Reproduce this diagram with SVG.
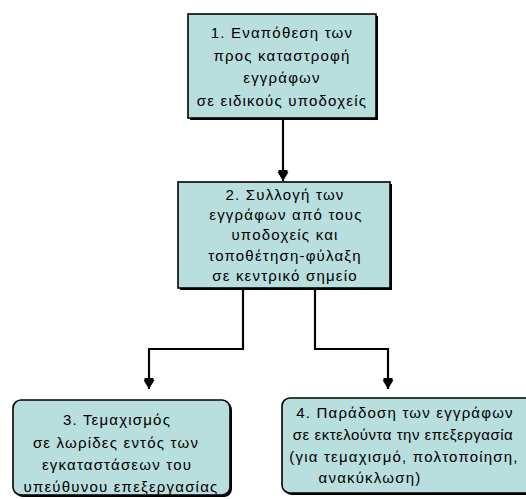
<svg xmlns="http://www.w3.org/2000/svg" width="526" height="499" viewBox="0 0 526 499">
<style>
.box{fill:#b9dede;stroke:#000;stroke-width:1.6}
.sh{fill:#000}
.t{font-family:"Liberation Sans",Arial,sans-serif;font-size:15px;letter-spacing:1.2px;fill:#000;text-anchor:middle}
.c{fill:none;stroke:#000;stroke-width:2.2}
</style>
<defs>
<marker id="ah" markerWidth="11" markerHeight="11" refX="11" refY="5.5" orient="auto" markerUnits="userSpaceOnUse" viewBox="0 0 11 11">
<path d="M2,0 L11,5.5 L2,11 Z" fill="#000"/>
<rect x="0" y="1" width="2" height="9" fill="#000"/>
</marker>
</defs>
<rect width="526" height="499" fill="#fff"/>
<g id="connectors">
<path class="c" d="M283,119 V181" marker-end="url(#ah)"/>
<path class="c" d="M243,289 V349 H149 V389" marker-end="url(#ah)"/>
<path class="c" d="M315,289 V349 H388 V389" marker-end="url(#ah)"/>
</g>
<g id="node1">
<rect class="sh" x="190" y="16" width="188" height="104"/>
<rect class="box" x="188" y="14" width="188" height="104"/>
<text class="t" x="282" y="38">1. Εναπόθεση των</text>
<text class="t" x="282" y="61">προς καταστροφή</text>
<text class="t" x="282" y="83">εγγράφων</text>
<text class="t" x="282" y="106">σε ειδικούς υποδοχείς</text>
</g>
<g id="node2">
<rect class="sh" x="180" y="184" width="212" height="106"/>
<rect class="box" x="178" y="182" width="212" height="106"/>
<text class="t" x="285" y="200">2. Συλλογή των</text>
<text class="t" x="286" y="220">εγγράφων από τους</text>
<text class="t" x="285" y="240">υποδοχείς και</text>
<text class="t" x="285" y="261">τοποθέτηση-φύλαξη</text>
<text class="t" x="285" y="281">σε κεντρικό σημείο</text>
</g>
<g id="node3">
<rect class="sh" x="15" y="402" width="217" height="95" rx="8"/>
<rect class="box" x="13" y="400" width="217" height="95" rx="8"/>
<text class="t" x="117" y="425">3. Τεμαχισμός</text>
<text class="t" x="116" y="448">σε λωρίδες εντός των</text>
<text class="t" x="117" y="470">εγκαταστάσεων του</text>
<text class="t" x="121" y="492">υπεύθυνου επεξεργασίας</text>
</g>
<g id="node4">
<rect class="sh" x="284" y="400" width="260" height="95" rx="8"/>
<rect class="box" x="282" y="398" width="260" height="95" rx="8"/>
<text class="t" x="405" y="418">4. Παράδοση των εγγράφων</text>
<text class="t" x="403" y="440" style="letter-spacing:0.5px">σε εκτελούντα την επεξεργασία</text>
<text class="t" x="404" y="462">(για τεμαχισμό, πολτοποίηση,</text>
<text class="t" x="370" y="483">ανακύκλωση)</text>
</g>
</svg>
